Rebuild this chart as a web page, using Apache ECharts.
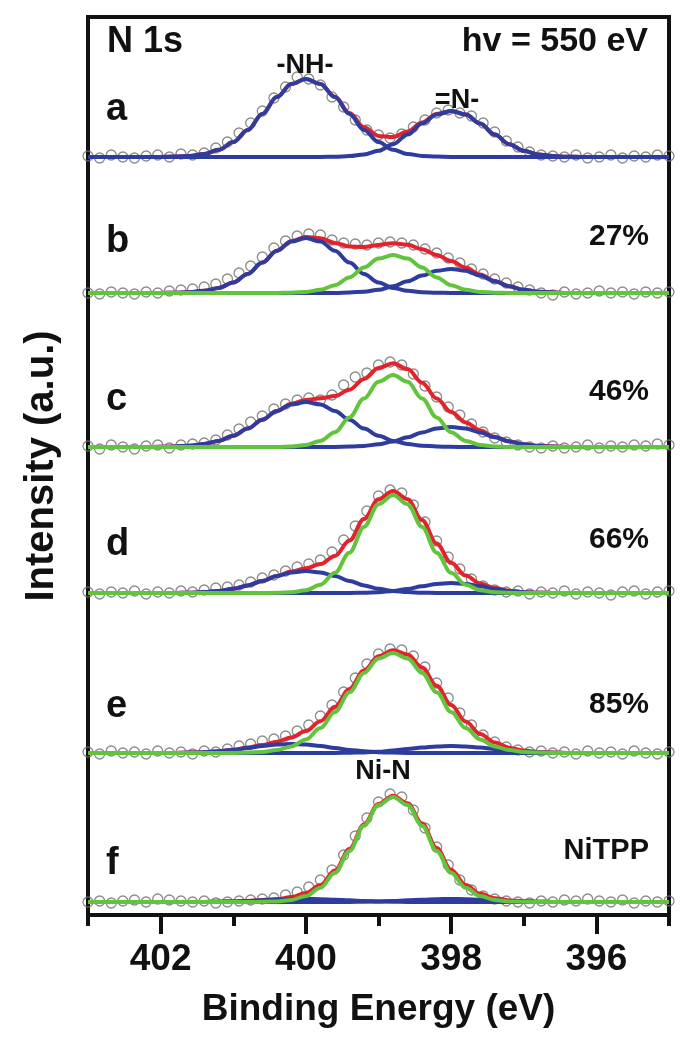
<!DOCTYPE html>
<html><head><meta charset="utf-8">
<script src="https://cdn.jsdelivr.net/npm/echarts@6/dist/echarts.min.js"></script>
<style>html,body{margin:0;padding:0;background:#fff}#chart{width:690px;height:1050px}</style>
</head><body><div id="chart"></div>
<script>
// ---------------- DATA ----------------
const X_MAJOR = [402, 400, 398, 396];
const X_MINOR = [403, 401, 399, 397, 395];

const ENERGY_FIT = [403.0,402.8,402.6,402.4,402.2,402.0,401.8,401.6,401.4,401.2,401.0,400.8,400.6,400.4,400.2,400.0,399.8,399.6,399.4,399.2,399.0,398.8,398.6,398.4,398.2,398.0,397.8,397.6,397.4,397.2,397.0,396.8,396.6,396.4,396.2,396.0,395.8,395.6,395.4,395.2,395.0];
const ENERGY_OBS = [403.00,402.84,402.68,402.52,402.36,402.20,402.04,401.88,401.72,401.56,401.40,401.24,401.08,400.92,400.76,400.60,400.44,400.28,400.12,399.96,399.80,399.64,399.48,399.32,399.16,399.00,398.84,398.68,398.52,398.36,398.20,398.04,397.88,397.72,397.56,397.40,397.24,397.08,396.92,396.76,396.60,396.44,396.28,396.12,395.96,395.80,395.64,395.48,395.32,395.16,395.00];

// a
const A_OBS = [1,-1,2,0,-1, 1,2,0,3,2, 4,9,15,24,34, 46,59,70,80,78, 72,60,50,37,27, 22,19,23,30,37, 44,47,44,41,34, 25,16,10,5,2, 1,0,2,-1,0, 2,-1,1,0,2, 1];
const A_NH  = [0,0,0,0,0, 0.1,0.4,1.1,3.1,7.2, 14.9,27.1,43.1,59.9,73.0, 78,73.0,59.9,43.1,27.1, 14.9,7.2,3.1,1.1,0.4, 0.1,0,0,0,0, 0,0,0,0,0, 0,0,0,0,0, 0];
const A_N   = [0,0,0,0,0, 0,0,0,0,0, 0,0,0,0,0, 0,0.1,0.3,0.9,2.6, 6.2,12.8,22.4,33.4,42.5, 46,42.5,33.4,22.4,12.8, 6.2,2.6,0.9,0.3,0.1, 0,0,0,0,0, 0];
const A_SUM = [0,0,0,0,0, 0.1,0.4,1.1,3.1,7.2, 14.9,27.1,43.1,59.9,73.0, 78,73.1,60.2,44.0,29.7, 21.1,20.0,25.5,34.5,42.9, 46.1,42.5,33.4,22.4,12.8, 6.2,2.6,0.9,0.3,0.1, 0,0,0,0,0, 0];
// b
const B_OBS = [0,-1,1,0,-1, 1,0,2,3,4, 6,9,14,20,27, 36,45,52,57,59, 58,53,50,49,48, 50,51,50,48,44, 40,35,30,24,19, 14,10,6,3,0, -2,1,-1,0,2, 0,1,-1,1,0, 1];
const B_NH  = [0,0,0,0,0, 0.1,0.3,0.8,2.2,5.1, 10.5,19.1,30.4,42.2,51.5, 55,51.5,42.2,30.4,19.1, 10.5,5.1,2.2,0.8,0.3, 0.1,0,0,0,0, 0,0,0,0,0, 0,0,0,0,0, 0];
const B_NIN = [0,0,0,0,0, 0,0,0,0,0, 0,0,0,0.1,0.3, 1.1,3.2,7.8,15.6,25.6, 34.4,38,34.4,25.6,15.6, 7.8,3.2,1.1,0.3,0.1, 0,0,0,0,0, 0,0,0,0,0, 0];
const B_N   = [0,0,0,0,0, 0,0,0,0,0, 0,0,0,0,0, 0,0,0.1,0.5,1.3, 3.2,6.7,11.7,17.4,22.2, 24,22.2,17.4,11.7,6.7, 3.2,1.3,0.5,0.1,0, 0,0,0,0,0, 0];
const B_SUM = [0,0,0,0,0, 0.1,0.3,0.8,2.2,5.1, 10.5,19.1,30.4,42.3,51.8, 56.1,54.7,50.1,46.5,46.0, 48.1,49.8,48.3,43.8,38.1, 31.9,25.4,18.5,12.0,6.8, 3.2,1.3,0.5,0.1,0, 0,0,0,0,0, 0];
// c
const C_OBS = [1,-2,2,0,-2, 1,2,-1,2,3, 4,7,12,18,25, 31,38,43,47,49, 47,52,62,70,74, 82,85,82,73,61, 50,40,32,23,15, 9,5,2,0,-1, 1,-1,0,2,-1, 1,0,2,1,3, 2];
const C_NH  = [0,0,0,0,0, 0.2,0.5,1.3,3.0,6.1, 11.2,18.5,27.3,36.0,42.6, 45,42.6,36.0,27.3,18.5, 11.2,6.1,3.0,1.3,0.5, 0.2,0,0,0,0, 0,0,0,0,0, 0,0,0,0,0, 0];
const C_NIN = [0,0,0,0,0, 0,0,0,0,0, 0,0,0,0.1,0.6, 2.1,6.1,14.8,29.6,48.5, 65.2,72,65.2,48.5,29.6, 14.8,6.1,2.1,0.6,0.1, 0,0,0,0,0, 0,0,0,0,0, 0];
const C_N   = [0,0,0,0,0, 0,0,0,0,0, 0,0,0,0,0, 0,0,0.1,0.4,1.1, 2.7,5.6,9.7,14.5,18.5, 20,18.5,14.5,9.7,5.6, 2.7,1.1,0.4,0.1,0, 0,0,0,0,0, 0];
const C_SUM = [0,0,0,0,0, 0.2,0.5,1.3,3.0,6.1, 11.2,18.5,27.3,36.1,43.2, 47.1,48.7,50.9,57.3,68.1, 79.1,83.7,77.9,64.3,48.6, 35.0,24.6,16.6,10.3,5.7, 2.7,1.1,0.4,0.1,0, 0,0,0,0,0, 0];
// d
const D_OBS = [1,-1,1,0,2, -1,1,0,2,1, 3,5,6,8,11, 15,18,22,26,29, 33,41,53,67,82, 97,103,100,88,71, 52,36,24,14,7, 3,1,2,-1,1, 0,2,-1,1,0, -2,1,2,-1,1, 2];
const D_NH  = [0,0,0,0,0, 0,0.1,0.3,0.9,2.0, 4.2,7.6,12.1,16.9,20.6, 22,20.6,16.9,12.1,7.6, 4.2,2.0,0.9,0.3,0.1, 0,0,0,0,0, 0,0,0,0,0, 0,0,0,0,0, 0];
const D_NIN = [0,0,0,0,0, 0,0,0,0,0, 0,0,0,0.2,0.8, 2.8,8.3,20.2,40.3,66.1, 88.8,98,88.8,66.1,40.3, 20.2,8.3,2.8,0.8,0.2, 0,0,0,0,0, 0,0,0,0,0, 0];
const D_N   = [0,0,0,0,0, 0,0,0,0,0, 0,0,0,0,0, 0,0,0,0.1,0.3, 0.8,2.1,4.1,6.7,9.1, 10,9.1,6.7,4.1,2.1, 0.8,0.3,0.1,0,0, 0,0,0,0,0, 0];
const D_SUM = [0,0,0,0,0, 0,0.1,0.3,0.9,2.0, 4.2,7.6,12.1,17.1,21.4, 24.8,28.9,37.1,52.5,74.0, 93.8,102.1,93.8,73.1,49.5, 30.2,17.4,9.5,4.9,2.3, 0.8,0.3,0.1,0,0, 0,0,0,0,0, 0];
// e
const E_OBS = [1,-1,2,0,1, -1,2,0,1,-1, 2,1,4,7,9, 12,14,17,22,28, 37,48,61,75,89, 99,104,103,97,86, 70,55,40,28,18, 11,6,3,1,2, 0,1,-1,2,0, 1,-1,2,0,-1, 1];
const E_NH  = [0,0,0,0,0, 0,0.1,0.4,0.8,1.7, 3.1,5.0,6.9,8.4,9, 8.4,6.9,5.0,3.1,1.7, 0.8,0.4,0.1,0,0, 0,0,0,0,0, 0,0,0,0,0, 0,0,0,0,0, 0];
const E_NIN = [0,0,0,0,0, 0,0,0,0,0, 0.1,0.4,1.1,2.9,6.6, 13.5,24.9,41.1,60.7,80.1, 94.6,100,94.6,80.1,60.7, 41.1,24.9,13.5,6.6,2.9, 1.1,0.4,0.1,0,0, 0,0,0,0,0, 0];
const E_N   = [0,0,0,0,0, 0,0,0,0,0, 0,0,0,0,0, 0,0,0.1,0.3,0.6, 1.3,2.4,3.9,5.4,6.6, 7,6.6,5.4,3.9,2.4, 1.3,0.6,0.3,0.1,0, 0,0,0,0,0, 0];
const E_SUM = [0,0,0,0,0, 0,0.1,0.4,0.8,1.7, 3.2,5.4,8.0,11.3,15.6, 21.9,31.8,46.2,64.1,82.4, 96.7,102.8,98.6,85.5,67.3, 48.1,31.5,18.9,10.5,5.3, 2.4,1.0,0.4,0.1,0, 0,0,0,0,0, 0];
// f
const F_OBS = [0,1,-1,1,2, 0,3,2,1,0, 1,-1,0,1,2, 3,4,7,10,15, 22,32,47,66,84, 100,108,105,92,74, 55,37,22,12,6, 3,1,0,-1,1, 0,2,1,3,1, 0,2,-1,1,0, 1];
const F_NH  = [0,0,0,0,0, 0,0,0,0.1,0.3, 0.6,1.0,1.7,2.3,2.8, 3,2.8,2.3,1.7,1.0, 0.6,0.3,0.1,0,0, 0,0,0,0,0, 0,0,0,0,0, 0,0,0,0,0, 0];
const F_NIN = [0,0,0,0,0, 0,0,0,0,0, 0,0,0.2,0.6,2.1, 5.9,14.2,29.2,51.1,76.2, 96.9,105,96.9,76.2,51.1, 29.2,14.2,5.9,2.1,0.6, 0.2,0,0,0,0, 0,0,0,0,0, 0];
const F_N   = [0,0,0,0,0, 0,0,0,0,0, 0,0,0,0,0, 0,0,0,0.1,0.3, 0.6,1.0,1.7,2.3,2.8, 3,2.8,2.3,1.7,1.0, 0.6,0.3,0.1,0,0, 0,0,0,0,0, 0];
const F_SUM = [0,0,0,0,0, 0,0,0,0.1,0.3, 0.6,1.0,1.9,2.9,4.9, 8.9,17.0,31.5,52.9,77.5, 98.1,106.3,98.7,78.5,53.9, 32.2,17.0,8.2,3.8,1.6, 0.8,0.3,0.1,0,0, 0,0,0,0,0, 0];

const PANEL_LABELS = ['a', 'b', 'c', 'd', 'e', 'f'];
const RIGHT_LABELS = ['', '27%', '46%', '66%', '85%', 'NiTPP'];

// ---------------- LAYOUT / STYLE ----------------
const FONT = '"Liberation Sans", Arial, Helvetica, sans-serif';
const BLUE = '#2d3c9e', RED = '#e3232b', GREEN = '#62c43c', CIRCLE = '#6e6e6e';
const OFFSETS = [758, 622, 468, 322, 162, 13];      // stacking offset of each trace (plot units)
const LABEL_Y = [110, 242, 400, 545, 707, 864];     // text rows (px)
const RIGHT_Y = [0, 237, 392, 540, 705, 851];

const SPECTRA = [
  { obs: A_OBS, sum: A_SUM, blue: [A_NH, A_N], green: null },
  { obs: B_OBS, sum: B_SUM, blue: [B_NH, B_N], green: B_NIN },
  { obs: C_OBS, sum: C_SUM, blue: [C_NH, C_N], green: C_NIN },
  { obs: D_OBS, sum: D_SUM, blue: [D_NH, D_N], green: D_NIN },
  { obs: E_OBS, sum: E_SUM, blue: [E_NH, E_N], green: E_NIN },
  { obs: F_OBS, sum: F_SUM, blue: [F_NH, F_N], green: F_NIN }
];

function fitLine(vals, off, color, z) {
  return {
    type: 'line', xAxisIndex: 0, yAxisIndex: 0,
    data: ENERGY_FIT.map((e, k) => [e, vals[k] + off]),
    showSymbol: false, symbol: 'none', smooth: 0.35, smoothMonotone: 'x',
    lineStyle: { color: color, width: 4 }, z: z, silent: true, animation: false
  };
}

const series = [];
SPECTRA.forEach((s, i) => {
  const off = OFFSETS[i];
  series.push({
    type: 'scatter', xAxisIndex: 0, yAxisIndex: 0,
    data: ENERGY_OBS.map((e, j) => [e, s.obs[j] + off]),
    symbol: 'circle', symbolSize: 10,
    itemStyle: { color: 'rgba(255,255,255,0)', borderColor: CIRCLE, borderWidth: 1.3 },
    z: 1, silent: true, animation: false
  });
  series.push(fitLine(s.sum, off, RED, 2));
  s.blue.forEach(b => series.push(fitLine(b, off, BLUE, 3)));
  if (s.green) series.push(fitLine(s.green, off, GREEN, 4));
});

const graphics = [];
const txt = (t, x, y, size, align) => ({
  type: 'text', x: x, y: y, z: 10, silent: true,
  style: { text: t, fill: '#111', font: 'bold ' + size + 'px ' + FONT, align: align, verticalAlign: 'middle' }
});
graphics.push(txt('N 1s', 107, 42, 36, 'left'));
graphics.push(txt('hv = 550 eV', 648, 42, 34, 'right'));
graphics.push(txt('-NH-', 305, 66, 27, 'center'));
graphics.push(txt('=N-', 457, 101, 27, 'center'));
graphics.push(txt('Ni-N', 383, 772, 27, 'center'));
PANEL_LABELS.forEach((l, i) => graphics.push(txt(l, 106, LABEL_Y[i], 38, 'left')));
RIGHT_LABELS.forEach((l, i) => { if (l) graphics.push(txt(l, 649, RIGHT_Y[i], l === 'NiTPP' ? 29 : 30, 'right')); });

const chart = echarts.init(document.getElementById('chart'), null, { renderer: 'canvas' });
chart.setOption({
  backgroundColor: '#ffffff',
  animation: false,
  textStyle: { fontFamily: FONT },
  grid: { left: 88, right: 21, top: 17, bottom: 135, show: true, borderColor: '#111', borderWidth: 4, backgroundColor: 'rgba(0,0,0,0)' },
  xAxis: [
    {
      type: 'value', min: 395, max: 403, inverse: true, position: 'bottom',
      axisLine: { show: true, onZero: false, lineStyle: { color: '#111', width: 4 } },
      axisTick: { show: true, inside: false, length: 19, customValues: X_MAJOR, lineStyle: { color: '#111', width: 4 } },
      axisLabel: { show: true, customValues: X_MAJOR, margin: 26, fontSize: 37, fontWeight: 'bold', color: '#111', fontFamily: FONT },
      splitLine: { show: false },
      name: 'Binding Energy (eV)', nameLocation: 'middle', nameGap: 76,
      nameTextStyle: { fontSize: 37, fontWeight: 'bold', color: '#111', fontFamily: FONT }
    },
    {
      type: 'value', min: 395, max: 403, inverse: true, position: 'bottom',
      axisLine: { show: false, onZero: false },
      axisTick: { show: true, inside: false, length: 11, customValues: X_MINOR, lineStyle: { color: '#111', width: 4 } },
      axisLabel: { show: false },
      splitLine: { show: false }
    }
  ],
  yAxis: {
    type: 'value', min: 0, max: 898,
    axisLine: { show: false }, axisTick: { show: false }, axisLabel: { show: false }, splitLine: { show: false },
    name: 'Intensity (a.u.)', nameLocation: 'middle', nameGap: 26, nameRotate: 90,
    nameTextStyle: { fontSize: 40, fontWeight: 'bold', color: '#111', fontFamily: FONT }
  },
  graphic: graphics,
  series: series
});
</script>
</body></html>
